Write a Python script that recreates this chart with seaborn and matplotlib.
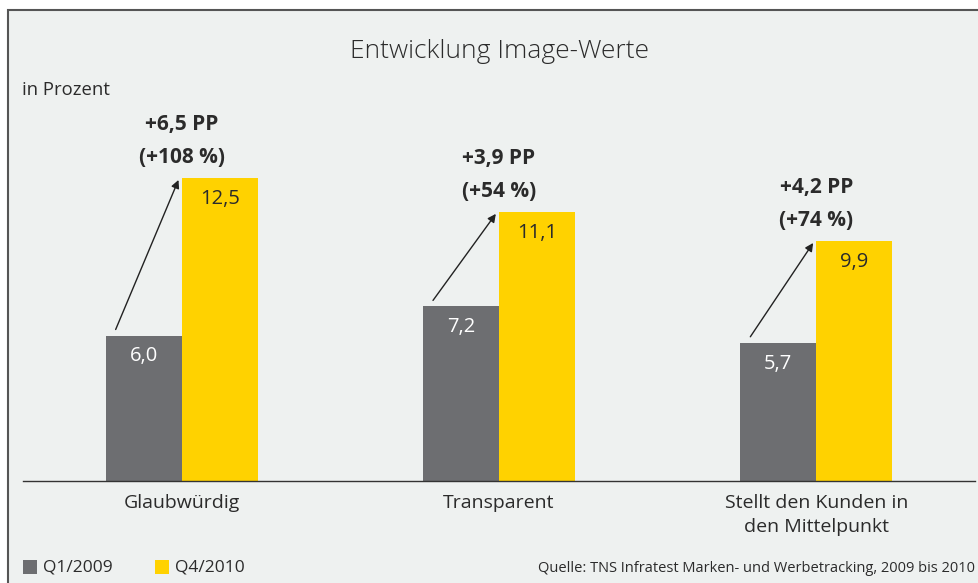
import numpy as np
import pandas as pd
from matplotlib import pyplot as plt
from matplotlib.patches import Rectangle
import seaborn as sns

categories = ["Glaubwürdig", "Transparent", "Stellt den Kunden in\nden Mittelpunkt"]
periods = ["Q1/2009", "Q4/2010"]
q1_2009 = [6.0, 7.2, 5.7]
q4_2010 = [12.5, 11.1, 9.9]
delta_pp = ["+6,5 PP", "+3,9 PP", "+4,2 PP"]
delta_pct = ["(+108 %)", "(+54 %)", "(+74 %)"]

bg = "#EEF1F0"
colors = {"Q1/2009": "#6D6E71", "Q4/2010": "#FFD200"}
txt = "#2b2b2b"

sns.set_style("white")
plt.rcParams['font.family'] = ['Open Sans', 'DejaVu Sans']

df = pd.DataFrame({
    "Kategorie": categories * 2,
    "Zeitraum": [periods[0]] * 3 + [periods[1]] * 3,
    "Wert": q1_2009 + q4_2010,
})

W, H = 979, 583
fig = plt.figure(figsize=(W / 100, H / 100), dpi=100)
fig.patch.set_facecolor("white")
# frame with grey background (open to the right and bottom)
fig.patches.append(Rectangle((8 / W, -0.05), 1, 1.05 - 10 / H, transform=fig.transFigure,
                             facecolor=bg, edgecolor="#555555", linewidth=1.5, zorder=-5))

ax = fig.add_axes([23 / W, 102 / H, 952 / W, 421 / H])
ax.set_facecolor("none")
sns.barplot(data=df, x="Kategorie", y="Wert", hue="Zeitraum", palette=colors,
            width=0.48, gap=0, saturation=1, linewidth=0, ax=ax, legend=False)

ax.set_xlim(-0.5, 2.5)
ax.set_ylim(0, 421 / 24.24)
ax.set_xlabel("")
ax.set_ylabel("")
ax.set_yticks([])
for s in ["top", "right", "left"]:
    ax.spines[s].set_visible(False)
ax.spines["bottom"].set_color("#333333")
ax.spines["bottom"].set_linewidth(1)
ax.tick_params(axis="x", which="major", length=0, pad=9, labelsize=14, labelcolor=txt)
ax.set_xticks([0.5, 1.5], minor=True)
ax.tick_params(axis="x", which="minor", length=6, width=1, color="#333333", direction="out")
for lab in ax.get_xticklabels():
    lab.set_linespacing(1.45)

# value labels inside bars
for i in range(3):
    ax.text(i - 0.12, q1_2009[i] - 0.45, f"{q1_2009[i]:.1f}".replace(".", ","),
            ha="center", va="top", fontsize=14.5, color="white")
    ax.text(i + 0.12, q4_2010[i] - 0.45, f"{q4_2010[i]:.1f}".replace(".", ","),
            ha="center", va="top", fontsize=14.5, color=txt)
    # arrow from grey to yellow bar
    ax.annotate("", xy=(i - 0.01, q4_2010[i] - 0.08),
                xytext=(i - 0.24 + 0.032, q1_2009[i] + 0.25),
                arrowprops=dict(arrowstyle="-|>", color="#222222", lw=1,
                                mutation_scale=12, shrinkA=0, shrinkB=0))
    ax.annotate(delta_pp[i], xy=(i, q4_2010[i]), xytext=(0, 38.5), textcoords="offset points",
                ha="center", va="center", fontsize=15, fontweight="bold", color=txt)
    ax.annotate(delta_pct[i], xy=(i, q4_2010[i]), xytext=(0, 15), textcoords="offset points",
                ha="center", va="center", fontsize=15, fontweight="bold", color=txt)

fig.text(499 / W, 1 - 52 / H, "Entwicklung Image-Werte", ha="center", va="center",
         fontsize=19, fontweight="light", color=txt)
fig.text(22 / W, 1 - 90 / H, "in Prozent", ha="left", va="center", fontsize=13.3, color=txt)

# legend
for x0, p in [(23, periods[0]), (155, periods[1])]:
    fig.patches.append(Rectangle((x0 / W, 1 - 574 / H), 14 / W, 14 / H, transform=fig.transFigure,
                                 facecolor=colors[p], edgecolor="none"))
    fig.text((x0 + 20) / W, 1 - 568 / H, p, ha="left", va="center", fontsize=12.5, color=txt)

fig.text(975 / W, 1 - 568 / H, "Quelle: TNS Infratest Marken- und Werbetracking, 2009 bis 2010",
         ha="right", va="center", fontsize=10.5, color=txt)

plt.savefig("out.png", dpi=100, facecolor=fig.get_facecolor())
